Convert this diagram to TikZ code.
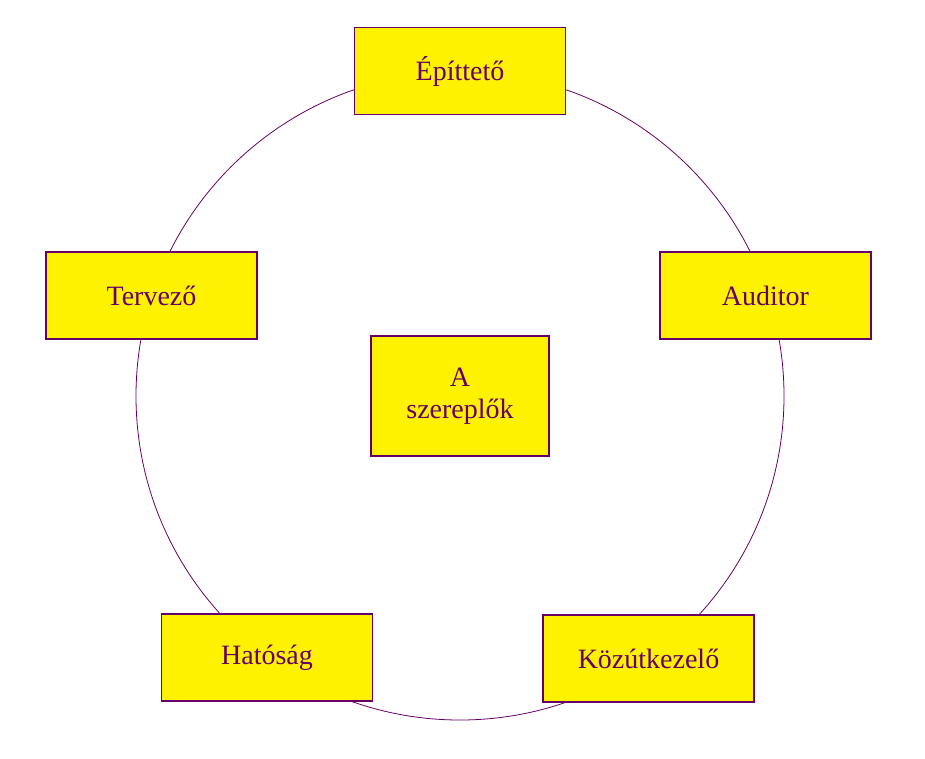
\documentclass[tikz,border=0pt]{standalone}
\usepackage{fontspec}
\setmainfont{Liberation Serif}
\begin{document}
\begin{tikzpicture}[x=1pt,y=-1pt,
  box/.style={draw=violet!80!black,line width=1.3pt,fill=yellow,text=violet!80!black,
    font=\fontsize{28}{32}\selectfont,inner sep=0pt,align=center}]
\useasboundingbox (0,0) rectangle (925,758);
\fill[white] (0,0) rectangle (925,758);
\draw[violet!80!black,line width=0.8pt] (460,396) circle (324);
\node[box,minimum width=211,minimum height=87] (e) at (460,71) {Építtető};
\node[box,minimum width=211,minimum height=87] (t) at (151.5,295.5) {Tervező};
\node[box,minimum width=211,minimum height=87] (a) at (765.5,295.5) {Auditor};
\node[box,minimum width=178,minimum height=120] (c) at (460,396) {A\\szereplők};
\node[box,minimum width=211,minimum height=87] (h) at (267,657.5) {Hatóság};
\node[box,minimum width=211,minimum height=87] (k) at (648.5,658.5) {Közútkezelő};
\end{tikzpicture}
\end{document}
